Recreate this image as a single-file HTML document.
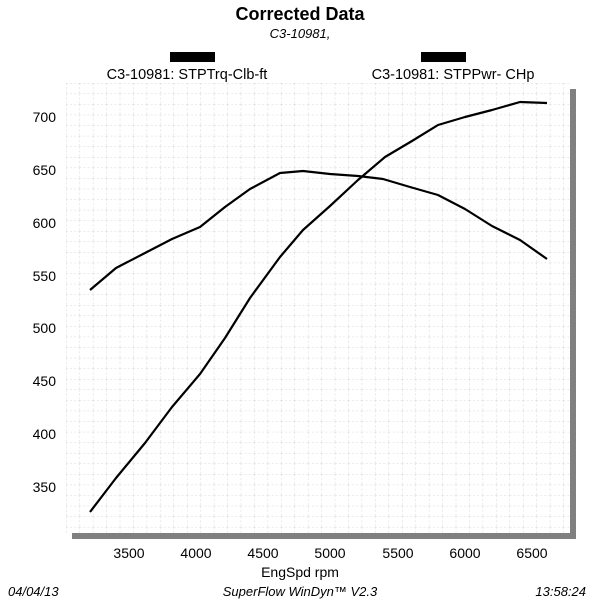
<!DOCTYPE html>
<html><head><style>
body{margin:0;background:#fff;width:600px;height:600px;overflow:hidden;font-family:"Liberation Sans",Arial,sans-serif}
</style></head><body>
<svg width="600" height="600" xmlns="http://www.w3.org/2000/svg" font-family="Liberation Sans, Arial, sans-serif">
<defs>
<pattern id="g" x="66" y="83" width="13.44" height="10.57" patternUnits="userSpaceOnUse">
<path d="M0 0V10.57M0 0H13.44" stroke="#d6d6d6" stroke-width="1" stroke-dasharray="2,2" fill="none"/>
</pattern>
</defs>
<text x="300" y="20" text-anchor="middle" font-size="18" font-weight="bold">Corrected Data</text>
<text x="300" y="38" text-anchor="middle" font-size="13" font-style="italic">C3-10981,</text>
<rect x="170" y="52" width="45" height="10" fill="#000"/>
<rect x="421" y="52" width="45" height="10" fill="#000"/>
<text x="187" y="79" text-anchor="middle" font-size="14.5">C3-10981: STPTrq-Clb-ft</text>
<text x="453" y="79" text-anchor="middle" font-size="14.5">C3-10981: STPPwr- CHp</text>
<rect x="72" y="89" width="504" height="450" fill="#808080"/>
<rect x="66" y="83" width="504" height="450" fill="#fff"/>
<rect x="66" y="83" width="504" height="450" fill="url(#g)"/>
<g font-size="14" text-anchor="end">
<text x="56" y="122">700</text><text x="56" y="175">650</text><text x="56" y="228">600</text><text x="56" y="281">550</text><text x="56" y="333">500</text><text x="56" y="386">450</text><text x="56" y="439">400</text><text x="56" y="492">350</text>
</g>
<g font-size="14" text-anchor="middle">
<text x="129" y="558">3500</text><text x="196" y="558">4000</text><text x="263" y="558">4500</text><text x="330" y="558">5000</text><text x="398" y="558">5500</text><text x="465" y="558">6000</text><text x="532" y="558">6500</text>
<text x="300" y="577">EngSpd  rpm</text>
</g>
<g font-size="13" font-style="italic">
<text x="8" y="596">04/04/13</text>
<text x="300" y="596" text-anchor="middle">SuperFlow WinDyn™  V2.3</text>
<text x="586" y="596" text-anchor="end">13:58:24</text>
</g>
<g fill="none" stroke="#000" stroke-width="2.2" stroke-linejoin="round">
<polyline points="90,290 116,268 145,253 172,239 200,227 225,207 250,189 280,173 303,171 330,174 358,176 383,179 410,187 438,195 465,209 492,226 520,240 547,259"/>
<polyline points="90,512 116,478 145,443 172,407 200,374 225,338 250,298 280,257 303,230 330,206 358,180 385,157 412,141 438,125 465,117 492,110 520,102 547,103"/>
</g>
</svg>
</body></html>
